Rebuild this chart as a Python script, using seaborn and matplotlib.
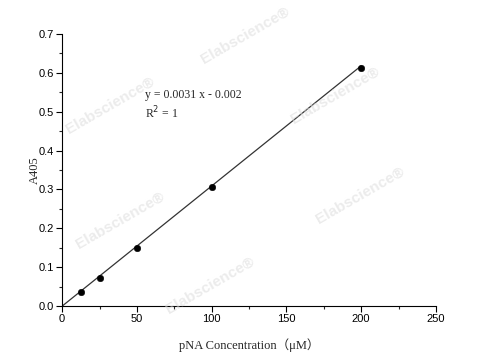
import matplotlib
matplotlib.use("Agg")
import matplotlib.pyplot as plt
import seaborn as sns
import numpy as np
import pandas as pd
from matplotlib.ticker import MultipleLocator

# Data
concentration = [12.5, 25, 50, 100, 200]
absorbance = [0.036, 0.073, 0.149, 0.306, 0.612]
fit_x = [0, 200]
slope = 0.0031
intercept = -0.002
equation_text = "y = 0.0031 x - 0.002"
r2_text = "R$^2$ = 1"
x_label = "pNA Concentration\uff08\u03bcM\uff09"
y_label = "A405"

sns.set_theme(style="ticks")
plt.rcParams['font.family'] = ['Liberation Sans', 'DejaVu Sans']

fig = plt.figure(figsize=(4.78, 3.61), dpi=100)
ax = fig.add_axes([0.130, 0.152, 0.782, 0.754])

df = pd.DataFrame({"x": concentration, "y": absorbance})
fit_y = [slope * v + intercept for v in fit_x]
fit_y = [max(v, 0) for v in fit_y]
sns.lineplot(x=fit_x, y=fit_y, ax=ax, color="#333333", linewidth=0.9)
sns.scatterplot(data=df, x="x", y="y", ax=ax, color="black", s=22, edgecolor="black", zorder=3)

ax.set_xlim(0, 250)
ax.set_ylim(0, 0.7)
ax.xaxis.set_major_locator(MultipleLocator(50))
ax.xaxis.set_minor_locator(MultipleLocator(25))
ax.yaxis.set_major_locator(MultipleLocator(0.1))
ax.yaxis.set_minor_locator(MultipleLocator(0.05))
ax.yaxis.set_major_formatter(matplotlib.ticker.FormatStrFormatter('%.1f'))
ax.tick_params(axis='both', which='major', length=4, width=0.8, labelsize=8, colors='black', pad=2)
ax.tick_params(axis='both', which='minor', length=2, width=0.8)
for s in ["top", "right"]:
    ax.spines[s].set_visible(False)
for s in ["left", "bottom"]:
    ax.spines[s].set_color("black")
    ax.spines[s].set_linewidth(0.8)

ax.set_xlabel(x_label, fontsize=9, family=['Liberation Serif', 'Noto Sans CJK SC'], labelpad=10)
ax.set_ylabel(y_label, fontsize=9, family=['Liberation Serif'], labelpad=-2)

ax.text(55.5, 0.543, equation_text, fontsize=8.5, family='Liberation Serif', va='center')
ax.text(55.5, 0.497, r2_text, fontsize=8.5, family='Liberation Serif', va='center')

# watermarks
wm = [(110, 105), (245, 35), (335, 95), (120, 220), (360, 195), (210, 285)]
for px, py in wm:
    fig.text(px / 478, 1 - py / 361, "Elabscience\u00ae", fontsize=11, fontweight='bold',
             color='#dcdcdc', alpha=0.55, rotation=30, ha='center', va='center', zorder=0)

fig.savefig("out.png", dpi=100)
